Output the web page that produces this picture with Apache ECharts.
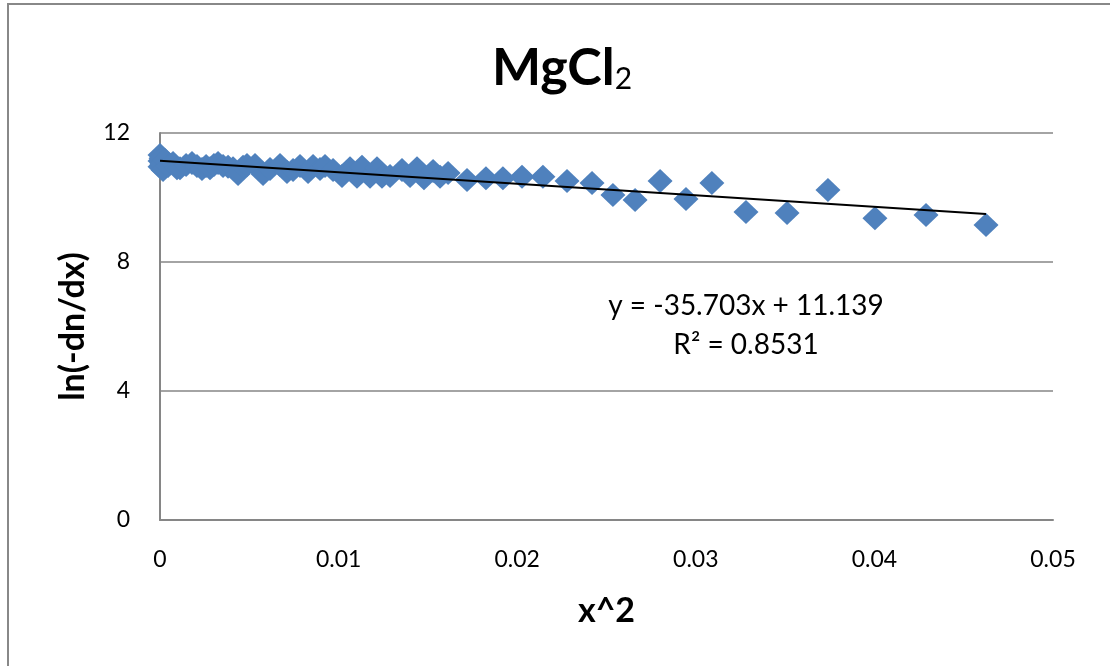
<!DOCTYPE html>
<html>
<head>
<meta charset="utf-8">
<script src="https://cdn.jsdelivr.net/npm/echarts@6/dist/echarts.min.js"></script>
<style>
html,body{margin:0;padding:0;background:#fff;}
#chart{width:1110px;height:666px;}
</style>
</head>
<body>
<div id="chart"></div>
<script>
// ---- data ----
const chartTitle = 'MgCl';
const titleSub = '2';
const xTitle = 'x^2';
const yTitle = 'ln(-dn/dx)';
const xValues = [0,0,0,0.00006,0.00011,0.00017,0.00028,0.00045,0.00073,0.00095,0.00112,0.00146,0.00179,0.00207,0.00235,0.00258,0.0028,0.00302,0.00325,0.00353,0.00381,0.00409,0.00437,0.00465,0.00487,0.00532,0.00577,0.00616,0.00672,0.00711,0.00745,0.00784,0.00829,0.00857,0.00896,0.00924,0.00969,0.01019,0.01064,0.01103,0.01131,0.01176,0.01215,0.01243,0.01288,0.01355,0.014,0.01439,0.01478,0.01529,0.01568,0.01613,0.01719,0.01825,0.0192,0.02027,0.02144,0.02279,0.02419,0.02536,0.0266,0.028,0.02945,0.0309,0.03281,0.03511,0.0374,0.04003,0.04289,0.04625];
const yValues = [11.32,11.13,10.95,11.22,11.04,10.85,11.16,10.98,11.07,10.91,10.91,11.01,11.07,10.98,10.88,10.98,10.91,11.01,11.07,10.98,10.95,10.91,10.73,10.95,11.01,11.01,10.73,10.88,11.01,10.79,10.85,10.98,10.79,10.98,10.88,10.98,10.85,10.67,10.91,10.64,10.95,10.64,10.91,10.64,10.67,10.85,10.67,10.91,10.60,10.82,10.64,10.76,10.54,10.60,10.60,10.64,10.64,10.51,10.45,10.08,9.92,10.51,9.95,10.45,9.55,9.52,10.23,9.36,9.46,9.15];
const trendSlope = -35.703;
const trendIntercept = 11.139;
const trendR2 = '0.8531';
const xTicks = [0, 0.01, 0.02, 0.03, 0.04, 0.05];
const yTicks = [0, 4, 8, 12];

const points = xValues.map((x, i) => [x, yValues[i]]);
const xMaxData = Math.max(...xValues);
const trendPoints = [[0, trendIntercept], [xMaxData, trendSlope * xMaxData + trendIntercept]];
const eqText = 'y = ' + trendSlope + 'x + ' + trendIntercept;

const FONT = 'Lato, "Liberation Sans", sans-serif';
const chart = echarts.init(document.getElementById('chart'), null, {renderer: 'canvas'});
chart.setOption({
  animation: false,
  backgroundColor: '#fff',
  grid: {left: 160, right: 57, top: 133, bottom: 146},
  xAxis: {
    type: 'value', min: xTicks[0], max: xTicks[xTicks.length - 1], interval: 0.01,
    name: xTitle, nameLocation: 'middle', nameGap: 74,
    nameTextStyle: {fontFamily: FONT, fontSize: 34, fontWeight: 'bold', color: '#000'},
    axisLine: {show: true, lineStyle: {color: '#868686', width: 2}},
    axisTick: {show: false},
    splitLine: {show: false},
    axisLabel: {margin: 28, fontFamily: FONT, fontSize: 23, color: '#000',
      formatter: v => String(+v.toFixed(2))}
  },
  yAxis: {
    type: 'value', min: yTicks[0], max: yTicks[yTicks.length - 1], interval: 4,
    name: yTitle, nameLocation: 'middle', nameGap: 70, nameRotate: 90,
    nameTextStyle: {fontFamily: FONT, fontSize: 34, fontWeight: 'bold', color: '#000'},
    axisLine: {show: true, lineStyle: {color: '#868686', width: 2}},
    axisTick: {show: false},
    splitLine: {show: true, lineStyle: {color: '#868686', width: 1.5}},
    axisLabel: {margin: 30, fontFamily: FONT, fontSize: 23, color: '#000'}
  },
  series: [
    {
      type: 'scatter', data: points, symbol: 'diamond', symbolSize: [25, 24],
      itemStyle: {color: '#4F81BD', opacity: 1}, z: 2
    },
    {
      type: 'line', data: trendPoints, symbol: 'none', showSymbol: false,
      lineStyle: {color: '#000', width: 2}, z: 3, silent: true
    }
  ],
  graphic: [
    {type: 'rect', shape: {x: 8, y: 4, width: 1130, height: 690}, style: {fill: 'none', stroke: '#888', lineWidth: 2}, silent: true},
    {type: 'text', x: 562, y: 34, style: {
      text: '{a|' + chartTitle + '}{b|' + titleSub + '}',
      align: 'center', verticalAlign: 'top',
      rich: {
        a: {fontFamily: FONT, fontSize: 52, fontWeight: 'bold', color: '#000', lineHeight: 60, verticalAlign: 'bottom'},
        b: {fontFamily: FONT, fontSize: 30, fontWeight: 'normal', color: '#000', lineHeight: 42, verticalAlign: 'bottom'}
      }
    }},
    {type: 'text', x: 746, y: 306, style: {text: eqText, align: 'center', verticalAlign: 'middle', fontFamily: FONT, fontSize: 28, fill: '#000'}},
    {type: 'text', x: 746, y: 345, style: {text: 'R² = ' + trendR2, align: 'center', verticalAlign: 'middle', fontFamily: FONT, fontSize: 28, fill: '#000'}}
  ]
});
</script>
</body>
</html>
